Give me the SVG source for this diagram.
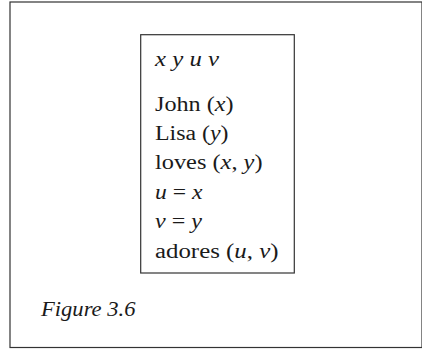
<svg xmlns="http://www.w3.org/2000/svg" width="422" height="351" viewBox="0 0 422 351">
<style>
.t{font-family:"Liberation Serif","Times New Roman",serif;font-size:20.5px;fill:#1a1a1a}
.i{font-style:italic}
.frame{fill:#fff;stroke:#333;stroke-width:1.2}
</style>
<rect x="0" y="0" width="422" height="351" fill="#fff"/>
<g id="outer"><rect class="frame" x="10" y="2" width="412" height="345.5"/></g>
<g id="box">
<rect class="frame" x="140.7" y="34.7" width="153.6" height="238.3"/>
<text class="t i" x="155" y="65.7" textLength="64" lengthAdjust="spacingAndGlyphs" xml:space="preserve">x y u v</text>
<text class="t" x="155" y="111" textLength="78.5" lengthAdjust="spacingAndGlyphs">John (<tspan class="i">x</tspan>)</text>
<text class="t" x="155" y="140" textLength="73.5" lengthAdjust="spacingAndGlyphs">Lisa (<tspan class="i">y</tspan>)</text>
<text class="t" x="155" y="169.3" textLength="107.5" lengthAdjust="spacingAndGlyphs">loves (<tspan class="i">x</tspan>, <tspan class="i">y</tspan>)</text>
<text class="t" x="155" y="198.7" textLength="47.5" lengthAdjust="spacingAndGlyphs"><tspan class="i">u</tspan> = <tspan class="i">x</tspan></text>
<text class="t" x="155" y="227.7" textLength="47" lengthAdjust="spacingAndGlyphs"><tspan class="i">v</tspan> = <tspan class="i">y</tspan></text>
<text class="t" x="155" y="257.7" textLength="123.5" lengthAdjust="spacingAndGlyphs">adores (<tspan class="i">u</tspan>, <tspan class="i">v</tspan>)</text>
</g>
<g id="caption"><text class="t i" x="41" y="316" textLength="94.5" lengthAdjust="spacingAndGlyphs">Figure 3.6</text></g>
</svg>
